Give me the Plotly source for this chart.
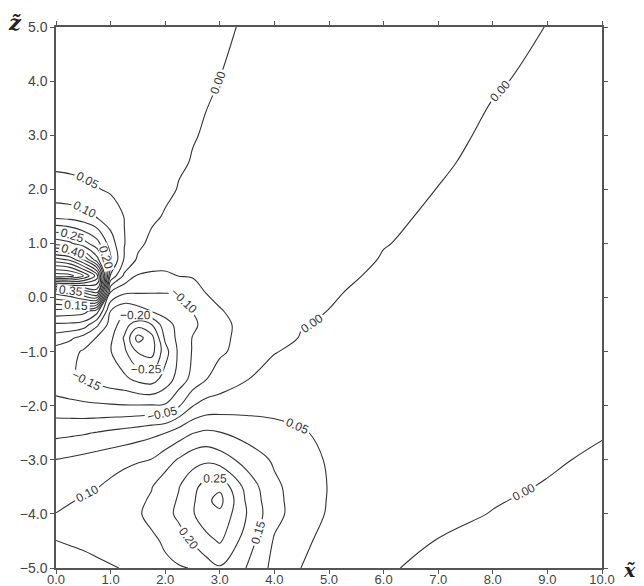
import plotly.graph_objects as go

# grid coordinates (x̃ columns, z̃ rows)
x_vals = [0, 0.25, 0.5, 0.75, 1.0, 1.25, 1.5, 1.75, 2.0, 2.25, 2.5, 2.75, 3.0, 3.5, 4.0, 4.5, 5.0, 6.0, 7.0, 8.0, 9.0, 10.0]
z_vals = [-5.0, -4.5, -4.0, -3.75, -3.5, -3.0, -2.5, -2.0, -1.5, -1.0, -0.75, -0.5, -0.25, 0.1, 0.4, 0.7, 1.0, 1.5, 2.0, 2.5, 3.0, 4.0, 5.0]

# field values, one list per z̃ row
row_m5_00 = [0.180, 0.175, 0.168, 0.160, 0.153, 0.148, 0.143, 0.142, 0.143, 0.146, 0.152, 0.175, 0.195, 0.148, 0.085, 0.049, 0.030, 0.004, -0.009, -0.018, -0.023, -0.026]
row_m4_50 = [0.151, 0.145, 0.140, 0.135, 0.133, 0.134, 0.137, 0.143, 0.155, 0.180, 0.205, 0.235, 0.255, 0.175, 0.095, 0.060, 0.035, 0.012, -0.001, -0.010, -0.016, -0.019]
row_m4_00 = [0.101, 0.108, 0.115, 0.122, 0.130, 0.138, 0.146, 0.160, 0.185, 0.210, 0.245, 0.280, 0.290, 0.198, 0.115, 0.075, 0.045, 0.020, 0.008, -0.001, -0.009, -0.014]
row_m3_75 = [0.088, 0.097, 0.104, 0.110, 0.120, 0.132, 0.142, 0.155, 0.180, 0.205, 0.240, 0.290, 0.315, 0.190, 0.113, 0.076, 0.047, 0.021, 0.010, 0.002, -0.005, -0.011]
row_m3_50 = [0.075, 0.085, 0.093, 0.098, 0.110, 0.125, 0.138, 0.148, 0.175, 0.198, 0.235, 0.270, 0.290, 0.180, 0.110, 0.075, 0.048, 0.022, 0.012, 0.006, -0.002, -0.008]
row_m3_00 = [0.051, 0.057, 0.064, 0.072, 0.080, 0.087, 0.095, 0.101, 0.130, 0.155, 0.180, 0.190, 0.175, 0.130, 0.093, 0.065, 0.046, 0.028, 0.014, 0.008, 0.004, -0.005]
row_m2_50 = [-0.014, -0.010, -0.005, 0.002, 0.010, 0.018, 0.027, 0.038, 0.049, 0.075, 0.098, 0.108, 0.102, 0.080, 0.065, 0.053, 0.042, 0.032, 0.022, 0.014, 0.008, 0.002]
row_m2_00 = [-0.080, -0.085, -0.090, -0.093, -0.095, -0.097, -0.097, -0.096, -0.095, -0.055, -0.002, 0.020, 0.025, 0.033, 0.036, 0.037, 0.036, 0.033, 0.028, 0.022, 0.017, 0.012]
row_m1_50 = [-0.135, -0.145, -0.155, -0.165, -0.180, -0.190, -0.215, -0.225, -0.180, -0.130, -0.085, -0.052, -0.032, -0.002, 0.018, 0.028, 0.030, 0.030, 0.027, 0.023, 0.019, 0.015]
row_m1_00 = [-0.120, -0.135, -0.155, -0.175, -0.198, -0.240, -0.305, -0.320, -0.220, -0.140, -0.097, -0.075, -0.056, -0.034, -0.002, 0.010, 0.018, 0.025, 0.027, 0.025, 0.022, 0.018]
row_m0_75 = [-0.075, -0.090, -0.120, -0.155, -0.190, -0.255, -0.370, -0.320, -0.190, -0.135, -0.098, -0.078, -0.058, -0.038, -0.018, 0.003, 0.012, 0.023, 0.027, 0.027, 0.024, 0.020]
row_m0_50 = [-0.008, -0.010, -0.020, -0.090, -0.170, -0.230, -0.280, -0.250, -0.170, -0.135, -0.110, -0.085, -0.058, -0.040, -0.025, -0.002, 0.004, 0.020, 0.027, 0.028, 0.026, 0.022]
row_m0_25 = [0.085, 0.080, 0.070, 0.020, -0.150, -0.190, -0.170, -0.148, -0.130, -0.115, -0.099, -0.075, -0.052, -0.038, -0.028, -0.017, 0.001, 0.016, 0.026, 0.029, 0.027, 0.023]
row_p0_10 = [0.270, 0.300, 0.360, 0.420, -0.050, -0.090, -0.095, -0.097, -0.098, -0.098, -0.075, -0.048, -0.042, -0.036, -0.030, -0.020, -0.006, 0.016, 0.025, 0.029, 0.027, 0.023]
row_p0_40 = [0.780, 0.770, 0.700, 0.580, 0.090, -0.010, -0.055, -0.058, -0.056, -0.049, -0.046, -0.045, -0.044, -0.043, -0.040, -0.032, -0.015, 0.010, 0.024, 0.029, 0.027, 0.023]
row_p0_70 = [0.570, 0.540, 0.450, 0.320, 0.160, 0.045, -0.008, -0.028, -0.036, -0.041, -0.044, -0.046, -0.047, -0.048, -0.046, -0.043, -0.037, 0.005, 0.022, 0.028, 0.026, 0.022]
row_p1_00 = [0.330, 0.310, 0.270, 0.220, 0.125, 0.052, 0.012, -0.012, -0.025, -0.032, -0.037, -0.040, -0.043, -0.045, -0.045, -0.044, -0.041, -0.003, 0.018, 0.026, 0.024, 0.021]
row_p1_50 = [0.135, 0.130, 0.118, 0.096, 0.072, 0.049, 0.026, 0.009, -0.004, -0.014, -0.022, -0.028, -0.033, -0.038, -0.040, -0.040, -0.039, -0.015, 0.012, 0.022, 0.021, 0.019]
row_p2_00 = [0.065, 0.062, 0.058, 0.052, 0.045, 0.037, 0.028, 0.020, 0.009, -0.002, -0.010, -0.017, -0.022, -0.028, -0.031, -0.033, -0.033, -0.028, 0.001, 0.016, 0.018, 0.017]
row_p2_50 = [0.042, 0.041, 0.039, 0.036, 0.032, 0.027, 0.021, 0.016, 0.010, 0.004, -0.0015, -0.006, -0.011, -0.017, -0.022, -0.025, -0.027, -0.024, -0.005, 0.010, 0.014, 0.014]
row_p3_00 = [0.035, 0.034, 0.032, 0.030, 0.027, 0.023, 0.019, 0.014, 0.010, 0.006, 0.0015, -0.002, -0.006, -0.012, -0.017, -0.021, -0.023, -0.021, -0.010, 0.006, 0.011, 0.012]
row_p4_00 = [0.027, 0.026, 0.025, 0.023, 0.021, 0.019, 0.016, 0.013, 0.010, 0.007, 0.005, 0.0025, -0.0002, -0.006, -0.011, -0.015, -0.018, -0.019, -0.014, -0.003, 0.007, 0.009]
row_p5_00 = [0.020, 0.019, 0.018, 0.017, 0.016, 0.015, 0.013, 0.012, 0.010, 0.009, 0.007, 0.005, 0.003, -0.002, -0.007, -0.011, -0.014, -0.016, -0.014, -0.008, 0.0005, 0.006]

field = [row_m5_00, row_m4_50, row_m4_00, row_m3_75, row_m3_50, row_m3_00, row_m2_50,
         row_m2_00, row_m1_50, row_m1_00, row_m0_75, row_m0_50, row_m0_25, row_p0_10,
         row_p0_40, row_p0_70, row_p1_00, row_p1_50, row_p2_00, row_p2_50, row_p3_00,
         row_p4_00, row_p5_00]

x_tick_vals = [0, 1, 2, 3, 4, 5, 6, 7, 8, 9, 10]
x_tick_text = ["0.0", "1.0", "2.0", "3.0", "4.0", "5.0", "6.0", "7.0", "8.0", "9.0", "10.0"]
z_tick_vals = [-5, -4, -3, -2, -1, 0, 1, 2, 3, 4, 5]
z_tick_text = ["\u22125.0", "\u22124.0", "\u22123.0", "\u22122.0", "\u22121.0", "0.0", "1.0", "2.0", "3.0", "4.0", "5.0"]

fig = go.Figure()
fig.add_trace(go.Contour(
    x=x_vals, y=z_vals, z=field,
    contours=dict(start=-0.40, end=0.80, size=0.05, coloring="none",
                  showlabels=True, labelformat=".2f",
                  labelfont=dict(family="Liberation Sans", size=12, color="#333333")),
    line=dict(color="#333333", width=1.1, smoothing=1.1),
    showscale=False, hoverinfo="skip",
))

axis_common = dict(showgrid=False, zeroline=False, showline=True, linecolor="#555555",
                   linewidth=1.5, mirror="ticks", ticks="outside", ticklen=4,
                   tickcolor="#555555", automargin=False)

fig.update_layout(
    width=644, height=586,
    margin=dict(l=56, r=42, t=27, b=18),
    paper_bgcolor="white", plot_bgcolor="white",
    xaxis=dict(range=[0, 10], tickvals=x_tick_vals, ticktext=x_tick_text,
               ticklabelstandoff=-5,
               tickfont=dict(family="Liberation Sans", size=13, color="#444444"), **axis_common),
    yaxis=dict(range=[-5, 5], tickvals=z_tick_vals, ticktext=z_tick_text,
               tickfont=dict(family="Liberation Sans", size=14, color="#444444"), **axis_common),
    annotations=[
        dict(text="<b><i>z\u0303</i></b>", xref="paper", yref="paper", x=-0.075, y=1.009,
             xanchor="center", yanchor="middle", showarrow=False,
             font=dict(family="DejaVu Serif", size=21, color="#222222")),
        dict(text="<b><i>x\u0303</i></b>", xref="paper", yref="paper", x=1.05, y=-0.004,
             xanchor="center", yanchor="middle", showarrow=False,
             font=dict(family="DejaVu Serif", size=19, color="#222222")),
    ],
)

fig.write_html("out.html", config={"displayModeBar": False},
               post_script="document.body.style.margin='0px';")
